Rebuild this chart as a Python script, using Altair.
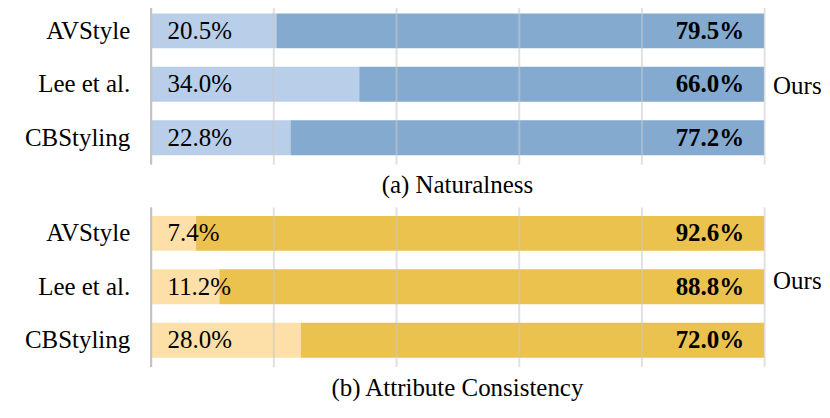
import altair as alt
import pandas as pd

methods = ["AVStyle", "Lee et al.", "CBStyling"]
# bar lengths as drawn in the figure (percent)
nat_other = [20.5, 34.0, 22.8]
nat_ours = [79.5, 66.0, 77.2]
attr_other = [7.4, 11.2, 24.5]
attr_ours = [92.6, 88.8, 75.5]
# value labels as printed in the figure
nat_other_lbl = ["20.5%", "34.0%", "22.8%"]
nat_ours_lbl = ["79.5%", "66.0%", "77.2%"]
attr_other_lbl = ["7.4%", "11.2%", "28.0%"]
attr_ours_lbl = ["92.6%", "88.8%", "72.0%"]
captions = ["(a) Naturalness", "(b) Attribute Consistency"]
ours_label = "Ours"
grid_values = [0, 20, 40, 60, 80, 100]

FONT = "Liberation Serif"
FS = 25


def panel(other, ours, other_lbl, ours_lbl, light, dark, caption, ours_dy):
    df = pd.DataFrame({
        "method": methods,
        "other": other,
        "ours": ours,
        "total": [o + u for o, u in zip(other, ours)],
        "other_lbl": other_lbl,
        "ours_lbl": ours_lbl,
    })
    yscale = alt.Scale(paddingInner=0.346, paddingOuter=0.168)
    y = alt.Y("method:N", sort=methods, title=None, scale=yscale,
              axis=alt.Axis(ticks=False, labelPadding=21, labelFont=FONT,
                            labelFontSize=FS, labelColor="black",
                            domainColor="#c2c2c2", domainWidth=2,
                            grid=False, minExtent=128, maxExtent=128,
                            zindex=1))
    xscale = alt.Scale(domain=[0, 100], nice=False, zero=True)
    xaxis = alt.Axis(values=grid_values, labels=False, ticks=False,
                     domain=False, grid=True, gridColor="#c8c8c8",
                     gridWidth=2, gridOpacity=0.55, title=None, zindex=1)
    base = alt.Chart(df)
    light_bar = base.mark_bar(color=light).encode(
        x=alt.X("other:Q", scale=xscale, axis=xaxis), y=y)
    dark_bar = base.mark_bar(color=dark).encode(
        x="other:Q", x2="total:Q", y=y)
    left_txt = base.mark_text(align="left", baseline="middle", dx=17,
                              font=FONT, fontSize=FS, color="black").encode(
        x=alt.datum(0), y=y, text="other_lbl:N")
    right_txt = base.mark_text(align="right", baseline="middle", dx=-20,
                               font=FONT, fontSize=FS, fontWeight="bold",
                               color="black").encode(
        x="total:Q", y=y, text="ours_lbl:N")
    ours_df = pd.DataFrame({"method": [methods[1]], "x": [100], "t": [ours_label]})
    ours_txt = alt.Chart(ours_df).mark_text(
        align="left", baseline="middle", dx=9, dy=ours_dy, font=FONT,
        fontSize=FS, color="black").encode(
        x=alt.X("x:Q"), y=alt.Y("method:N", sort=methods), text="t:N")
    return alt.layer(light_bar, dark_bar, left_txt, right_txt, ours_txt).properties(
        width=615, height=160,
        title=alt.TitleParams(caption, orient="bottom", anchor="middle",
                              frame="group", offset=9, font=FONT, fontSize=FS,
                              fontWeight="normal", color="black"))


top = panel(nat_other, nat_ours, nat_other_lbl, nat_ours_lbl,
            "#b8cee9", "#84aad0", captions[0], 2)
bottom = panel(attr_other, attr_ours, attr_other_lbl, attr_ours_lbl,
               "#fddfa8", "#ebc24d", captions[1], -6)

chart = alt.vconcat(top, bottom, spacing=9).properties(
    padding={"left": 15, "top": -4, "right": 0, "bottom": 0}
).configure_view(stroke=None)

chart.save("out.html", embed_options={"renderer": "svg", "actions": False})
